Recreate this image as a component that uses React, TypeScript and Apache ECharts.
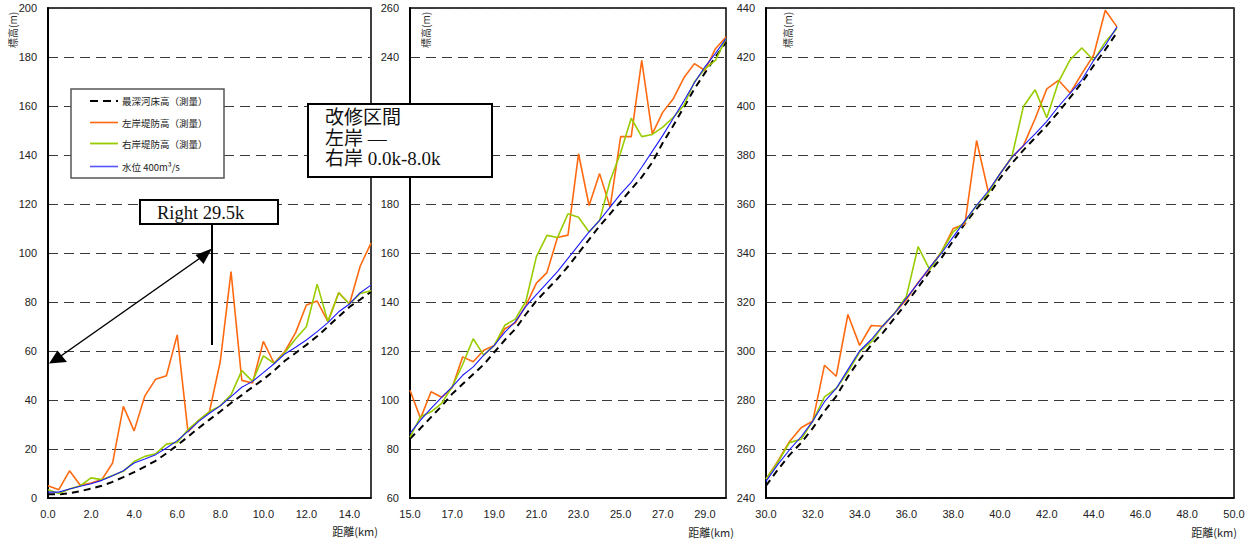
import React, { useEffect, useRef } from "react";
import * as echarts from "echarts";

// ---- distances (km) per panel ----
const km1 = [0.0, 0.5, 1.0, 1.5, 2.0, 2.5, 3.0, 3.5, 4.0, 4.5, 5.0, 5.5, 6.0, 6.5, 7.0, 7.5, 8.0, 8.5, 9.0, 9.5, 10.0, 10.5, 11.0, 11.5, 12.0, 12.5, 13.0, 13.5, 14.0, 14.5, 15.0];
const km2 = [15.0, 15.5, 16.0, 16.5, 17.0, 17.5, 18.0, 18.5, 19.0, 19.5, 20.0, 20.5, 21.0, 21.5, 22.0, 22.5, 23.0, 23.5, 24.0, 24.5, 25.0, 25.5, 26.0, 26.5, 27.0, 27.5, 28.0, 28.5, 29.0, 29.5, 30.0];
const km3 = [30.0, 30.5, 31.0, 31.5, 32.0, 32.5, 33.0, 33.5, 34.0, 34.5, 35.0, 35.5, 36.0, 36.5, 37.0, 37.5, 38.0, 38.5, 39.0, 39.5, 40.0, 40.5, 41.0, 41.5, 42.0, 42.5, 43.0, 43.5, 44.0, 44.5, 45.0];

// ---- 最深河床高 (deepest bed) ----
const bed1 = [1.5, 1.5, 2.0, 2.8, 3.8, 5.0, 6.6, 8.5, 10.6, 12.8, 15.2, 18.2, 21.5, 25.0, 28.6, 32.0, 35.3, 38.8, 42.0, 45.3, 48.4, 52.0, 56.0, 59.2, 62.5, 66.0, 70.0, 74.0, 78.0, 81.0, 84.2];
const bed2 = [84.2, 88.5, 93.0, 97.5, 102.5, 106.5, 110.5, 114.5, 119.5, 124.5, 129.0, 135.0, 140.5, 145.0, 149.5, 154.5, 160.0, 165.5, 171.0, 176.0, 181.0, 186.0, 191.0, 197.0, 205.0, 212.0, 219.5, 227.0, 233.5, 240.0, 246.0];
const bed3 = [245.0, 251.5, 257.5, 262.5, 268.5, 275.5, 281.5, 289.5, 296.5, 302.5, 307.5, 313.5, 319.5, 326.0, 332.5, 338.0, 345.0, 352.0, 358.0, 363.5, 370.5, 376.5, 382.0, 387.0, 392.0, 397.5, 403.5, 409.5, 416.5, 423.0, 430.0];

// ---- 左岸堤防高 (left bank) ----
const left1 = [5.0, 3.4, 11.1, 5.2, 6.1, 7.5, 14.3, 37.4, 27.4, 41.7, 48.5, 49.9, 66.6, 27.0, 31.7, 35.3, 55.7, 92.4, 48.0, 46.9, 63.9, 55.0, 59.8, 67.5, 78.8, 80.4, 72.0, 83.8, 79.2, 94.7, 104.0];
const left2 = [104.0, 92.5, 103.4, 101.1, 105.0, 117.6, 115.6, 120.3, 122.3, 129.1, 131.5, 138.5, 147.7, 152.0, 166.3, 167.3, 200.5, 179.4, 192.4, 178.7, 207.5, 207.5, 238.6, 208.6, 217.5, 223.0, 231.5, 237.3, 234.5, 243.4, 248.2];
const left3 = [247.7, 254.9, 263.0, 268.7, 271.4, 294.2, 289.7, 314.9, 302.3, 310.4, 310.1, 315.5, 321.0, 328.0, 333.8, 340.5, 350.0, 351.8, 385.9, 364.9, 372.3, 379.0, 383.8, 394.8, 407.0, 410.5, 405.3, 413.2, 420.7, 439.1, 432.3];

// ---- 右岸堤防高 (right bank) ----
const right1 = [3.4, 1.8, 3.7, 5.0, 8.2, 7.5, 9.2, 10.9, 14.9, 17.0, 18.1, 22.0, 22.7, 27.9, 31.7, 35.3, 37.6, 42.1, 52.0, 47.6, 58.0, 55.0, 59.4, 65.0, 69.9, 87.3, 72.0, 83.8, 79.2, 83.5, 84.6];
const right2 = [84.8, 93.2, 95.2, 98.6, 105.4, 114.5, 125.0, 118.3, 122.3, 130.5, 133.0, 140.3, 158.5, 167.2, 166.3, 176.0, 174.6, 168.6, 173.3, 189.5, 201.0, 215.0, 207.5, 208.4, 211.4, 215.4, 220.2, 229.8, 235.2, 238.6, 247.5];
const right3 = [247.7, 254.5, 262.6, 264.0, 271.4, 281.3, 284.7, 291.5, 299.6, 303.7, 310.4, 315.5, 322.3, 342.6, 333.1, 340.5, 348.6, 352.7, 359.5, 364.5, 372.3, 379.0, 399.8, 406.6, 395.2, 409.8, 418.9, 423.7, 418.6, 426.1, 431.6];

// ---- 水位 400m3/s (water level) ----
const water1 = [2.4, 2.4, 3.7, 4.8, 5.8, 7.2, 9.1, 11.1, 14.3, 15.9, 17.7, 20.4, 23.4, 27.2, 31.3, 34.6, 37.6, 41.4, 45.2, 47.6, 51.2, 54.8, 58.8, 61.5, 64.5, 67.9, 71.6, 76.0, 79.2, 83.8, 86.9];
const water2 = [86.4, 91.8, 96.6, 101.1, 105.4, 110.1, 113.5, 118.3, 122.3, 127.7, 132.0, 138.2, 143.0, 147.7, 152.4, 157.8, 163.2, 168.6, 173.3, 178.7, 184.1, 188.8, 195.0, 201.5, 208.0, 215.0, 222.0, 229.5, 236.0, 241.5, 247.5];
const water3 = [246.8, 253.6, 259.6, 265.0, 271.4, 279.3, 284.7, 292.4, 300.0, 304.7, 310.4, 315.5, 321.6, 327.7, 334.2, 339.9, 346.6, 353.1, 359.5, 365.3, 372.3, 379.0, 383.8, 388.6, 393.7, 399.8, 405.3, 410.7, 418.6, 424.8, 432.3];

// ---- labels ----
const seriesNames = ["最深河床高（測量）", "左岸堤防高（測量）", "右岸堤防高（測量）", "水位 400m³/s"];
const xAxisName = "距離(km)";
const yAxisName = "標高(m)";
const noteLines = ["改修区間", "左岸 —", "右岸 0.0k-8.0k"];
const calloutText = "Right 29.5k";
// y tick labels hidden behind the 改修区間 box in panel 2
const hiddenYLabels2 = [200, 220];

const panels = [
  { km: km1, bed: bed1, left: left1, right: right1, water: water1, xMin: 0, xMax: 15, xInt: 2, yMin: 0, yMax: 200 },
  { km: km2, bed: bed2, left: left2, right: right2, water: water2, xMin: 15, xMax: 30, xInt: 1, yMin: 60, yMax: 260 },
  { km: km3, bed: bed3, left: left3, right: right3, water: water3, xMin: 30, xMax: 50, xInt: 2, yMin: 240, yMax: 440 },
];

const gridRects = [
  { left: 48, top: 8, width: 323, height: 490 },
  { left: 410, top: 8, width: 316, height: 490 },
  { left: 766, top: 8, width: 468, height: 490 },
];

const COLORS = { bed: "#000000", left: "#ff6a10", right: "#99cc00", water: "#1a1aff" };
const SANS = '"Liberation Sans", Arial, sans-serif';
const CJK = '"Noto Sans CJK JP", sans-serif';
const SERIF = '"Liberation Serif", "Noto Sans CJK JP", serif';

function xFormatter(p: number) {
  return (v: number) => {
    if (p === 0) return v >= 15 ? "" : v.toFixed(1);
    if (p === 1) return Math.round(v) % 2 === 1 && v < 30 ? v.toFixed(1) : "";
    return v.toFixed(1);
  };
}

function yFormatter(p: number) {
  return (v: number) => (p === 1 && hiddenYLabels2.indexOf(v) >= 0 ? "" : String(v));
}

export default function App() {
  const ref = useRef<HTMLDivElement>(null);
  useEffect(() => {
    const chart = echarts.init(ref.current!, null, { renderer: "svg" });

    const series: any[] = [];
    panels.forEach((pn, p) => {
      const mk = (name: string, vals: number[], color: string, lineStyle: any, z: number) => ({
        type: "line",
        name,
        xAxisIndex: p,
        yAxisIndex: p,
        data: pn.km.map((k, i) => [k, vals[i]]),
        symbol: "none",
        color,
        lineStyle: { color, ...lineStyle },
        z,
        silent: true,
      });
      series.push(mk(seriesNames[0], pn.bed, COLORS.bed, { width: 2, type: [7, 5] }, 2));
      series.push(mk(seriesNames[1], pn.left, COLORS.left, { width: 1.6 }, 3));
      series.push(mk(seriesNames[2], pn.right, COLORS.right, { width: 1.6 }, 4));
      series.push(mk(seriesNames[3], pn.water, COLORS.water, { width: 1.1 }, 5));
    });

    const graphic: any[] = [];
    // axis names
    const yNameX = [12, 425, 787];
    yNameX.forEach((x) =>
      graphic.push({
        type: "text",
        x,
        y: 48,
        rotation: Math.PI / 2,
        style: { text: yAxisName, font: `10px ${CJK}`, fill: "#333", align: "left", verticalAlign: "middle" },
      })
    );
    const xNamePos = [
      [378, 531],
      [734, 532],
      [1237, 532],
    ];
    xNamePos.forEach(([x, y]) =>
      graphic.push({
        type: "text",
        x,
        y,
        style: { text: xAxisName, font: `11px ${CJK}`, fill: "#222", align: "right", verticalAlign: "middle" },
      })
    );

    // legend box
    graphic.push({
      type: "rect",
      shape: { x: 71, y: 89, width: 153, height: 89 },
      style: { fill: "#fff", stroke: "#555", lineWidth: 1.5 },
      z: 10,
    });
    const legRows = [101, 122.5, 143.5, 166.5];
    const legStyles = [
      { stroke: COLORS.bed, lineWidth: 2.2, lineDash: [8, 5] },
      { stroke: COLORS.left, lineWidth: 1.6 },
      { stroke: COLORS.right, lineWidth: 1.8 },
      { stroke: "#5555ff", lineWidth: 1.6 },
    ];
    legRows.forEach((y, i) => {
      graphic.push({
        type: "line",
        shape: { x1: 90, y1: y, x2: 118, y2: y },
        style: legStyles[i],
        z: 11,
      });
      graphic.push({
        type: "text",
        x: 122,
        y,
        style: { text: seriesNames[i], font: `9.5px ${CJK}`, fill: "#222", align: "left", verticalAlign: "middle" },
        z: 11,
      });
    });

    // note box
    graphic.push({
      type: "rect",
      shape: { x: 308, y: 104, width: 184, height: 73 },
      style: { fill: "#fff", stroke: "#000", lineWidth: 2 },
      z: 10,
    });
    const noteY = [117, 138, 158];
    noteLines.forEach((t, i) =>
      graphic.push({
        type: "text",
        x: 325,
        y: noteY[i],
        style: { text: t, font: `19px ${SERIF}`, fill: "#111", align: "left", verticalAlign: "middle" },
        z: 11,
      })
    );

    // callout box + lines + arrow
    graphic.push({
      type: "rect",
      shape: { x: 140, y: 200, width: 138, height: 24 },
      style: { fill: "#fff", stroke: "#000", lineWidth: 2 },
      z: 10,
    });
    graphic.push({
      type: "text",
      x: 157,
      y: 212.5,
      style: { text: calloutText, font: `18.5px ${SERIF}`, fill: "#111", align: "left", verticalAlign: "middle" },
      z: 11,
    });
    graphic.push({
      type: "line",
      shape: { x1: 212, y1: 224, x2: 212, y2: 345 },
      style: { stroke: "#000", lineWidth: 2 },
      z: 10,
    });
    graphic.push({
      type: "line",
      shape: { x1: 58, y1: 358, x2: 203, y2: 256 },
      style: { stroke: "#000", lineWidth: 1.5 },
      z: 10,
    });
    graphic.push({
      type: "polygon",
      shape: { points: [[212, 248.5], [195.5, 255], [203.5, 264]] },
      style: { fill: "#000" },
      z: 10,
    });
    graphic.push({
      type: "polygon",
      shape: { points: [[49, 363.5], [57.5, 350.5], [67, 362]] },
      style: { fill: "#000" },
      z: 10,
    });

    const option: any = {
      animation: false,
      backgroundColor: "#fff",
      grid: gridRects.map((g) => ({
        ...g,
        show: true,
        borderColor: "#000",
        borderWidth: 1.5,
        backgroundColor: "transparent",
        containLabel: false,
      })),
      xAxis: panels.map((pn, p) => ({
        type: "value",
        gridIndex: p,
        min: pn.xMin,
        max: pn.xMax,
        interval: pn.xInt,
        axisLine: { show: true, onZero: false, lineStyle: { color: "#000", width: 1.5 } },
        axisTick: { show: false },
        splitLine: { show: false },
        axisLabel: { formatter: xFormatter(p), fontFamily: SANS, fontSize: 11, color: "#222", margin: 10 },
      })),
      yAxis: panels.map((pn, p) => ({
        type: "value",
        gridIndex: p,
        min: pn.yMin,
        max: pn.yMax,
        interval: 20,
        axisLine: { show: true, onZero: false, lineStyle: { color: "#000", width: 2 } },
        axisTick: { show: false },
        splitLine: { show: true, lineStyle: { color: "#3a3a3a", width: 1.2, type: [10, 6] } },
        axisLabel: { formatter: yFormatter(p), fontFamily: SANS, fontSize: 11, color: "#222", margin: 11 },
      })),
      series,
      graphic: { elements: graphic },
    };
    chart.setOption(option);
    return () => chart.dispose();
  }, []);
  return (
    <div
      ref={ref}
      style={{ position: "absolute", left: 0, top: 0, width: 1253, height: 539, background: "#fff" }}
    />
  );
}
